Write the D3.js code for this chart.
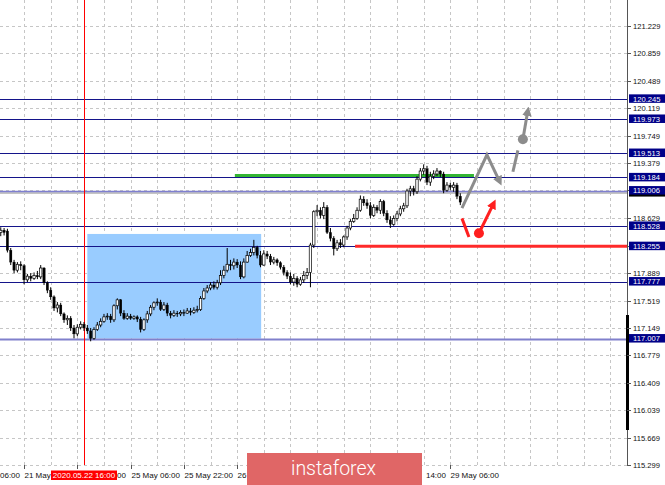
<!DOCTYPE html>
<html><head><meta charset="utf-8">
<script src="https://cdn.jsdelivr.net/npm/d3@7"></script>
<style>
body{margin:0;background:#fff;overflow:hidden;}
svg{display:block;font-family:"Liberation Sans",Arial,sans-serif;}
</style>
</head><body>
<svg id="c" width="665" height="485"></svg>
<script>
// ---------- DATA ----------
// hourly candles, index 25 = 2020.05.22 16:00
const opens = [118.44,118.47,118.46,118.20,118.04,117.93,118.01,117.99,117.80,117.85,
117.82,117.86,117.84,117.96,117.76,117.66,117.57,117.42,117.46,117.34,
117.26,117.28,117.15,117.07,117.16,117.20,117.15,117.11,117.01,117.13,
117.19,117.24,117.30,117.31,117.26,117.45,117.53,117.35,117.28,117.31,
117.28,117.30,117.27,117.13,117.26,117.34,117.43,117.49,117.50,117.40,
117.46,117.35,117.32,117.35,117.34,117.36,117.35,117.38,117.36,117.39,
117.40,117.55,117.65,117.69,117.73,117.70,117.76,117.86,117.93,118.01,
117.99,118.04,118.00,117.84,118.04,118.13,118.17,118.24,118.13,118.00,
118.15,118.12,118.04,118.07,118.03,117.97,117.90,117.85,117.77,117.82,
117.74,117.80,117.86,117.90,118.27,118.72,118.74,118.67,118.78,118.44,
118.36,118.22,118.30,118.27,118.38,118.50,118.59,118.63,118.74,118.89,
118.84,118.80,118.67,118.78,118.74,118.86,118.70,118.61,118.55,118.63,
118.69,118.76,118.80,119.00,119.03,118.99,119.16,119.27,119.30,119.12,
119.20,119.23,119.27,119.23,119.01,119.08,119.05,119.08,118.93];
const highs = [118.51,118.50,118.49,118.23,118.07,118.04,118.05,118.01,117.88,117.89,
117.90,117.92,118.00,117.97,117.78,117.70,117.59,117.50,117.49,117.36,
117.32,117.31,117.19,117.20,117.24,117.23,117.19,117.15,117.16,117.23,
117.28,117.34,117.35,117.34,117.47,117.55,117.54,117.39,117.35,117.34,
117.32,117.32,117.30,117.28,117.38,117.46,117.51,117.55,117.53,117.50,
117.49,117.38,117.39,117.38,117.39,117.40,117.42,117.42,117.43,117.45,
117.58,117.69,117.73,117.77,117.78,117.80,117.93,117.99,118.23,118.07,
118.09,118.08,118.05,118.09,118.19,118.22,118.34,118.26,118.19,118.20,
118.19,118.15,118.11,118.09,118.05,118.00,117.93,117.90,117.88,117.85,
117.84,117.92,117.96,118.30,118.74,118.81,118.78,118.85,118.81,118.50,
118.39,118.34,118.35,118.40,118.53,118.62,118.69,118.78,118.94,118.93,
118.89,118.85,118.82,118.81,118.89,118.88,118.74,118.66,118.67,118.73,
118.80,118.84,119.03,119.07,119.07,119.20,119.31,119.36,119.34,119.26,
119.28,119.31,119.28,119.26,119.12,119.11,119.12,119.11,118.97];
const lows = [118.39,118.40,118.17,118.00,117.89,117.90,117.93,117.74,117.77,117.78,
117.80,117.81,117.81,117.73,117.62,117.53,117.38,117.36,117.31,117.22,
117.19,117.11,117.01,117.04,117.13,117.11,117.07,116.97,116.99,117.11,
117.16,117.22,117.26,117.22,117.23,117.40,117.31,117.26,117.26,117.26,
117.26,117.23,117.09,117.11,117.22,117.31,117.39,117.45,117.38,117.38,
117.31,117.28,117.30,117.30,117.31,117.31,117.34,117.32,117.34,117.36,
117.38,117.53,117.62,117.66,117.67,117.67,117.73,117.82,117.90,117.93,
117.94,117.96,117.81,117.82,118.03,118.11,118.13,118.09,117.97,117.99,
118.08,118.00,118.01,117.99,117.94,117.86,117.81,117.74,117.72,117.70,
117.72,117.76,117.81,117.70,118.23,118.66,118.63,118.62,118.42,118.32,
118.13,118.19,118.23,118.24,118.34,118.47,118.57,118.61,118.72,118.80,
118.76,118.63,118.65,118.70,118.69,118.66,118.57,118.50,118.53,118.59,
118.66,118.72,118.77,118.93,118.94,118.96,119.13,119.22,119.08,119.07,
119.16,119.20,119.19,118.97,118.99,119.01,118.99,118.89,118.81];
const closes = [118.47,118.44,118.20,118.04,117.93,118.01,117.99,117.80,117.85,117.82,
117.86,117.84,117.96,117.76,117.66,117.57,117.42,117.46,117.34,117.26,
117.28,117.15,117.07,117.16,117.20,117.15,117.11,117.01,117.13,117.19,
117.24,117.30,117.31,117.26,117.45,117.53,117.35,117.28,117.31,117.28,
117.30,117.27,117.13,117.26,117.34,117.43,117.49,117.50,117.40,117.46,
117.35,117.32,117.35,117.34,117.36,117.35,117.38,117.36,117.39,117.40,
117.55,117.65,117.69,117.73,117.70,117.76,117.86,117.93,118.01,117.99,
118.04,118.00,117.84,118.04,118.13,118.17,118.24,118.13,118.00,118.15,
118.12,118.04,118.07,118.03,117.97,117.90,117.85,117.77,117.82,117.74,
117.80,117.86,117.90,118.27,118.72,118.74,118.67,118.78,118.44,118.36,
118.22,118.30,118.27,118.38,118.50,118.59,118.63,118.74,118.89,118.84,
118.80,118.67,118.78,118.74,118.86,118.70,118.61,118.55,118.63,118.69,
118.76,118.80,119.00,119.03,118.99,119.16,119.27,119.30,119.12,119.20,
119.23,119.27,119.23,119.01,119.08,119.05,119.08,118.93,118.85];

const priceTicks = ["121.229","120.859","120.489","120.119","119.749","119.379","119.009","118.629","118.259","117.889","117.519","117.149","116.779","116.409","116.039","115.669","115.299"];
const levelValues = ["120.245","119.973","119.513","119.184","119.006","118.528","118.255","117.777","117.007"];
const timeLabels = ["21 May 06:00","21 May 22:00","22 May 14:00","25 May 06:00","25 May 22:00","26 May 14:00","27 May 06:00","27 May 22:00","28 May 14:00","29 May 06:00"];
const timeLabelIdx = [-9,7,23,39,55,71,87,103,119,135];
const markerIdx = 25, markerLabel = "2020.05.22 16:00";
const zoneBox = {i0: 26, i1: 78.2, pLow: 117.007, pHigh: 118.42};
const greenLine = {i0: 70.3, i1: 142.1, p: 119.21};
const redLevel = {i0: 106.4, p: 118.255};
const greyPath = [[138.5,118.77],[146.0,119.49],[149.9,119.12]];
const greyDash = [[153.8,119.26],[155.3,119.55]];
const greyArrow = [[156.8,119.70],[158.3,120.09]];
const redDash = [[138.5,118.63],[140.6,118.38]];
const redArrow = [[143.6,118.43],[148.1,118.84]];
const logoText = "instaforex";

// ---------- SCALES ----------
const W = 665, H = 485, plotR = 627, plotB = 465;
const x = d3.scaleLinear().domain([25, 135]).range([84, 450.3]);
const y = d3.scaleLinear().domain([115.299, 121.229]).range([plotB, 26]);
const svg = d3.select("#c");
const idxMax = x.invert(plotR);

// ---------- GRID ----------
const grid = svg.append("g").attr("stroke","#c6c6c6").attr("stroke-dasharray","3,3").attr("stroke-width",1);
grid.selectAll("line.h").data(priceTicks).join("line")
  .attr("x1",0).attr("x2",plotR).attr("y1",d=>Math.round(y(+d))+0.5).attr("y2",d=>Math.round(y(+d))+0.5);
const vIdx = d3.range(-1, idxMax, 8);
grid.selectAll("line.v").data(vIdx).join("line")
  .attr("x1",d=>Math.round(x(d))+0.5).attr("x2",d=>Math.round(x(d))+0.5).attr("y1",0).attr("y2",plotB);

// ---------- ZONE ----------
svg.append("rect")
  .attr("x",x(zoneBox.i0)).attr("width",x(zoneBox.i1)-x(zoneBox.i0))
  .attr("y",y(zoneBox.pHigh)).attr("height",y(zoneBox.pLow)-y(zoneBox.pHigh))
  .attr("fill","#99ccff");

// ---------- LEVEL LINES ----------
const lv = svg.append("g");
levelValues.forEach(v=>{
  const yy = Math.round(y(+v))+0.5;
  if (v==="119.006") {
    lv.append("line").attr("x1",0).attr("x2",plotR).attr("y1",yy+1.5).attr("y2",yy+1.5).attr("stroke","#c4c4c4").attr("stroke-width",2);
    lv.append("line").attr("x1",0).attr("x2",plotR).attr("y1",yy).attr("y2",yy).attr("stroke","#7f7fd0").attr("stroke-width",1.3);
  } else if (v==="117.007") {
    lv.append("line").attr("x1",0).attr("x2",plotR).attr("y1",yy).attr("y2",yy).attr("stroke","#8080cc").attr("stroke-width",2);
  } else {
    lv.append("line").attr("x1",0).attr("x2",plotR).attr("y1",yy).attr("y2",yy).attr("stroke","#14148a").attr("stroke-width",1);
  }
});

// red vertical marker
svg.append("line").attr("x1",Math.round(x(markerIdx))+0.5).attr("x2",Math.round(x(markerIdx))+0.5)
  .attr("y1",0).attr("y2",plotB).attr("stroke","#ff0000").attr("stroke-width",1);

// green line and red level
svg.append("line").attr("x1",x(greenLine.i0)).attr("x2",x(greenLine.i1))
  .attr("y1",y(greenLine.p)).attr("y2",y(greenLine.p)).attr("stroke","#33b533").attr("stroke-width",3);
svg.append("line").attr("x1",x(redLevel.i0)).attr("x2",plotR)
  .attr("y1",y(redLevel.p)).attr("y2",y(redLevel.p)).attr("stroke","#ff2a2a").attr("stroke-width",3);

// ---------- CANDLES ----------
const candles = opens.map((o,i)=>({i,o,h:highs[i],l:lows[i],c:closes[i]}));
const cg = svg.append("g");
cg.selectAll("line").data(candles).join("line")
  .attr("x1",d=>x(d.i)).attr("x2",d=>x(d.i)).attr("y1",d=>y(d.h)).attr("y2",d=>y(d.l))
  .attr("stroke","#000").attr("stroke-width",1);
cg.selectAll("rect").data(candles).join("rect")
  .attr("x",d=>x(d.i)-1.2).attr("width",2.4)
  .attr("y",d=>y(Math.max(d.o,d.c))).attr("height",d=>Math.max(0.8,Math.abs(y(d.o)-y(d.c))))
  .attr("fill",d=>d.c>=d.o?"#ffffff":"#000000")
  .attr("stroke","#000").attr("stroke-width",d=>d.c>=d.o?0.7:0.3);

// ---------- ARROWS ----------
const defs = svg.append("defs");
function mk(id,col){
  defs.append("marker").attr("id",id).attr("viewBox","0 0 10 10").attr("refX",6).attr("refY",5)
    .attr("markerWidth",3.2).attr("markerHeight",3.2).attr("orient","auto")
    .append("path").attr("d","M0,0 L10,5 L0,10 z").attr("fill",col);
}
mk("ag","#8c8c8c"); mk("ar","#ff1f1f");
const ln = d3.line().x(d=>x(d[0])).y(d=>y(d[1]));
svg.append("path").attr("d",ln(greyPath)).attr("fill","none").attr("stroke","#8c8c8c").attr("stroke-width",3).attr("stroke-linejoin","miter").attr("marker-end","url(#ag)");
svg.append("path").attr("d",ln(greyDash)).attr("fill","none").attr("stroke","#8c8c8c").attr("stroke-width",3);
svg.append("path").attr("d",ln(greyArrow)).attr("fill","none").attr("stroke","#8c8c8c").attr("stroke-width",3).attr("marker-end","url(#ag)");
svg.append("circle").attr("cx",x(greyArrow[0][0])).attr("cy",y(greyArrow[0][1])).attr("r",5).attr("fill","#8c8c8c");
svg.append("path").attr("d",ln(redDash)).attr("fill","none").attr("stroke","#ff1f1f").attr("stroke-width",3);
svg.append("path").attr("d",ln(redArrow)).attr("fill","none").attr("stroke","#ff1f1f").attr("stroke-width",3).attr("marker-end","url(#ar)");
svg.append("circle").attr("cx",x(redArrow[0][0])).attr("cy",y(redArrow[0][1])).attr("r",5).attr("fill","#ff1f1f");

// ---------- RIGHT AXIS ----------
svg.append("rect").attr("x",plotR+0.5).attr("y",0).attr("width",W-plotR).attr("height",H).attr("fill","#fff");
svg.append("line").attr("x1",plotR+0.5).attr("x2",plotR+0.5).attr("y1",0).attr("y2",plotB).attr("stroke","#555").attr("stroke-width",1);
svg.append("rect").attr("x",plotR-1).attr("y",315).attr("width",3).attr("height",115).attr("fill","#000");
const ax = svg.append("g").attr("font-size","7.6px");
priceTicks.forEach(t=>{
  const yy = Math.round(y(+t))+0.5;
  ax.append("line").attr("x1",plotR).attr("x2",plotR+4).attr("y1",yy).attr("y2",yy).attr("stroke","#555");
  ax.append("text").attr("x",633).attr("y",yy+2.8).attr("fill","#111").text(t);
});
// current price stub
ax.append("rect").attr("x",629).attr("y",y(119.006)-2).attr("width",36).attr("height",8).attr("fill","#000");
levelValues.forEach(v=>{
  const yy = y(+v);
  ax.append("rect").attr("x",629).attr("y",yy-4.5).attr("width",36).attr("height",8.5).attr("fill","#000088");
  ax.append("text").attr("x",633).attr("y",yy+2.8).attr("fill","#fff").text(v);
});

// ---------- BOTTOM AXIS ----------
const logoBox = {x0: 247, x1: 422, y0: 453};
const markerBox = {x0: x(markerIdx)-33, x1: x(markerIdx)+33};
const occluders = [[markerBox.x0, markerBox.x1],[logoBox.x0, logoBox.x1]];
const bx = svg.append("g").attr("font-size","8px");
timeLabelIdx.forEach((ti,k)=>{
  const xx = Math.round(x(ti))+0.5;
  bx.append("line").attr("x1",xx).attr("x2",xx).attr("y1",plotB).attr("y2",plotB+4).attr("stroke","#555");
  // only the part of each label that is not hidden by the red time label or logo is shown
  const t = bx.append("text").attr("x",xx).attr("y",477.5).attr("fill","#111").text(timeLabels[k]);
  const node = t.node(), full = timeLabels[k];
  const vis = [];
  for (let j=0;j<full.length;j++){
    const s = node.getStartPositionOfChar(j).x, e = node.getEndPositionOfChar(j).x;
    vis.push(!(s < -2.5 || occluders.some(([a,b]) => e > a+0.5 && s < b-0.5)));
  }
  // first contiguous visible run
  let a = vis.indexOf(true);
  if (a < 0) { t.remove(); return; }
  let b = a; while (b+1 < full.length && vis[b+1]) b++;
  while (a <= b && full[a] === " ") a++;
  while (b >= a && full[b] === " ") b--;
  if (a > b) { t.remove(); return; }
  const sx = Math.max(0, node.getStartPositionOfChar(a).x);
  t.attr("x", sx).text(full.slice(a, b+1));
});
bx.append("rect").attr("x",markerBox.x0).attr("y",470.5).attr("width",66).attr("height",9.5).attr("fill","#ff0000");
bx.append("text").attr("x",x(markerIdx)).attr("y",478).attr("text-anchor","middle").attr("fill","#fff").text(markerLabel);

// ---------- LOGO ----------
svg.append("rect").attr("x",logoBox.x0).attr("y",logoBox.y0).attr("width",logoBox.x1-logoBox.x0).attr("height",H-logoBox.y0).attr("fill","#e06666");
svg.append("text").attr("x",291).attr("y",475).attr("fill","#fff").attr("font-family","Roboto, 'Open Sans', sans-serif")
  .attr("font-weight",300).attr("font-size","19.5px").text(logoText);
</script>
</body></html>
